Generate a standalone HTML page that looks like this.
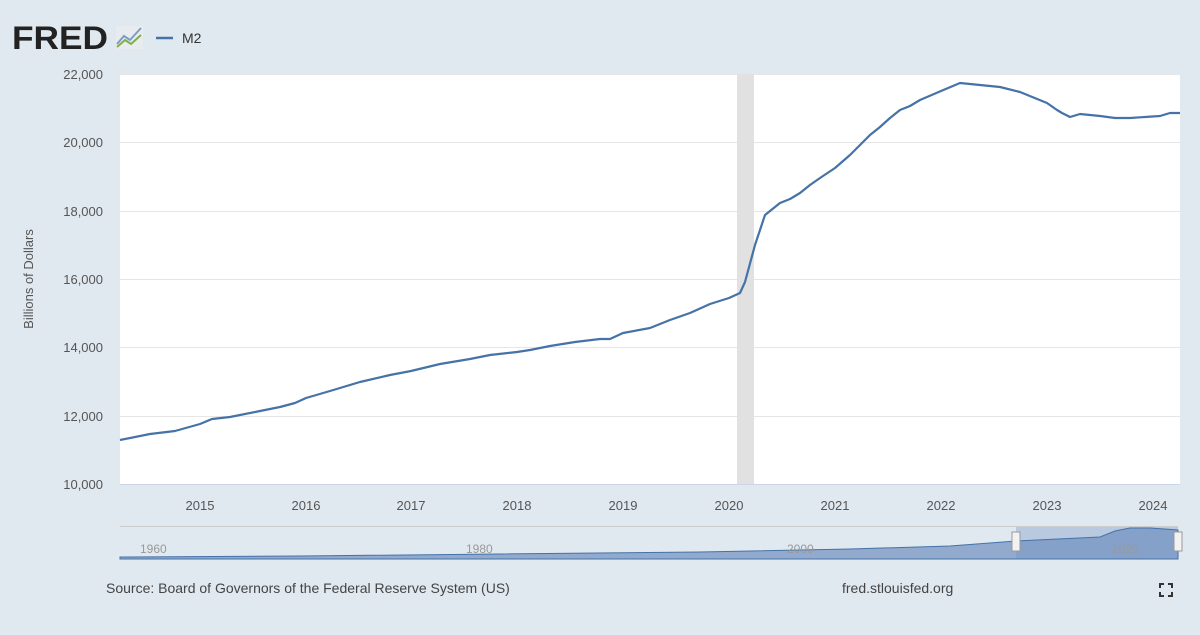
<!DOCTYPE html>
<html><head><meta charset="utf-8"><style>
body{margin:0;background:#e1e9f0;font-family:"Liberation Sans",sans-serif;}
svg text{font-family:"Liberation Sans",sans-serif;}
</style></head><body>
<svg width="1200" height="630" viewBox="0 0 1200 630" xmlns="http://www.w3.org/2000/svg">
<rect width="1200" height="630" fill="#e1e9f0"/>
<text x="12" y="49" font-size="32" font-weight="bold" fill="#222" textLength="96" lengthAdjust="spacingAndGlyphs">FRED</text>
<rect x="116" y="26" width="27" height="23" fill="#e8ecef" rx="2"/>
<polyline points="117,44 124,36 130,40 141,28" fill="none" stroke="#7b9ec2" stroke-width="2"/>
<polyline points="117,47 125,40 131,44 141,35" fill="none" stroke="#7fb04a" stroke-width="2"/>
<line x1="156" y1="38" x2="173" y2="38" stroke="#4572a7" stroke-width="2.5"/>
<text x="182" y="43" font-size="14" fill="#333">M2</text>
<rect x="120" y="74" width="1060" height="410" fill="#fff"/>
<g stroke="#e6e6e6" stroke-width="1">
<line x1="120" y1="74.5" x2="1180" y2="74.5"/><line x1="120" y1="142.5" x2="1180" y2="142.5"/>
<line x1="120" y1="211.5" x2="1180" y2="211.5"/><line x1="120" y1="279.5" x2="1180" y2="279.5"/>
<line x1="120" y1="347.5" x2="1180" y2="347.5"/><line x1="120" y1="416.5" x2="1180" y2="416.5"/>
</g>
<rect x="737" y="74" width="17" height="410" fill="#e1e1e1"/>
<line x1="120" y1="484.5" x2="1180" y2="484.5" stroke="#ccd6eb"/>
<g font-size="13" fill="#555" text-anchor="end">
<text x="103" y="79">22,000</text><text x="103" y="147">20,000</text><text x="103" y="216">18,000</text>
<text x="103" y="284">16,000</text><text x="103" y="352">14,000</text><text x="103" y="421">12,000</text>
<text x="103" y="489">10,000</text></g>
<text transform="translate(33,279) rotate(-90)" font-size="13" fill="#555" text-anchor="middle">Billions of Dollars</text>
<g font-size="13" fill="#555" text-anchor="middle">
<text x="200" y="510">2015</text><text x="306" y="510">2016</text><text x="411" y="510">2017</text>
<text x="517" y="510">2018</text><text x="623" y="510">2019</text><text x="729" y="510">2020</text>
<text x="835" y="510">2021</text><text x="941" y="510">2022</text><text x="1047" y="510">2023</text>
<text x="1153" y="510">2024</text></g>
<polyline fill="none" stroke="#4572a7" stroke-width="2.2" stroke-linejoin="round" points="120,440 150,434 175,431 200,424 212,419 230,417 260,411 280,407 295,403 306,398 330,391 360,382 390,375 411,371 440,364 470,359 490,355 517,352 530,350 550,346 575,342 600,339 610,339 623,333 650,328 670,320 690,313 710,304 729,298 740,293 745,282 755,245 765,215 780,203 790,199 800,193 810,185 820,178 835,168 850,155 860,145 870,135 880,127 890,118 900,110 910,106 920,100 941,91 960,83 980,85 1000,87 1020,92 1047,103 1057,110 1062,113 1070,117 1080,114 1100,116 1115,118 1130,118 1145,117 1160,116 1170,113 1180,113"/>
<rect x="120" y="527" width="1058" height="32" fill="#e1e9f0"/>
<line x1="120" y1="526.5" x2="1178" y2="526.5" stroke="#ccc"/>
<rect x="1016" y="527" width="162" height="32" fill="#b8c9e0"/>
<path d="M120,557 L300,556 L500,554 L700,552 L850,549 L950,546 L1016,541 L1100,537 L1115,531 L1130,528 L1150,528 L1178,530 L1178,559 L120,559Z" fill="#6f8fbf" fill-opacity="0.7" stroke="#4572a7" stroke-width="1"/>
<g font-size="12" fill="#999"><text x="140" y="553">1960</text><text x="466" y="553">1980</text><text x="787" y="553">2000</text><text x="1112" y="553">2020</text></g>
<rect x="1012" y="532" width="8" height="19" fill="#f2f2f2" stroke="#999"/>
<rect x="1174" y="532" width="8" height="19" fill="#f2f2f2" stroke="#999"/>
<text x="106" y="593" font-size="14" fill="#444">Source: Board of Governors of the Federal Reserve System (US)</text>
<text x="842" y="593" font-size="14" fill="#444">fred.stlouisfed.org</text>
<path d="M1160,588v-4h4M1168,584h4v4M1172,592v4h-4M1164,596h-4v-4" fill="none" stroke="#333" stroke-width="2"/>
</svg>
</body></html>
